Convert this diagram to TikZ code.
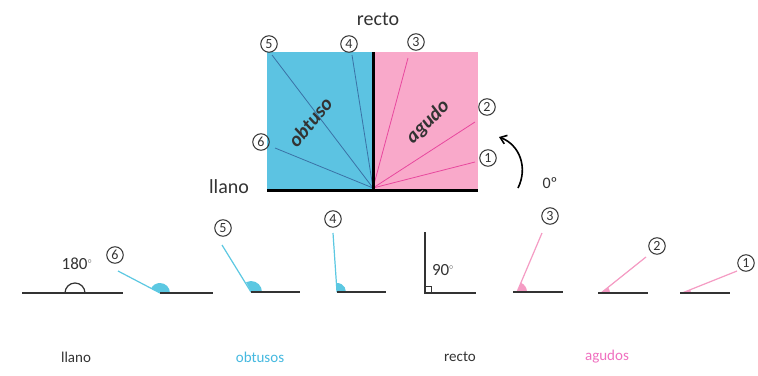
\documentclass[tikz,border=0pt]{standalone}
\usepackage{fontspec}
\setmainfont{Carlito}
\usetikzlibrary{arrows.meta}
\definecolor{boxblue}{HTML}{5CC3E2}
\definecolor{boxpink}{HTML}{F9A9CA}
\definecolor{raydark}{HTML}{3A72A6}
\definecolor{raypink}{HTML}{E8489E}
\definecolor{litecyan}{HTML}{5CC8E2}
\definecolor{litepink}{HTML}{F59CC4}
\definecolor{txtblue}{HTML}{45B9E0}
\definecolor{txtpink}{HTML}{F070C0}
\definecolor{ink}{HTML}{333333}
\tikzset{
  num/.style={circle,draw=ink,line width=1pt,inner sep=0pt,minimum size=16.5pt,font=\fontsize{14}{14}\selectfont,text=ink},
  lbl/.style={font=\fontsize{#1}{#1}\selectfont,text=ink,inner sep=0pt},
  base/.style={draw=ink,line width=1.3pt},
  thick3/.style={draw=black,line width=3pt},
  bray/.style={draw=raydark,line width=0.8pt},
  pray/.style={draw=raypink,line width=0.8pt},
  cray/.style={draw=litecyan,line width=1.2pt},
  kray/.style={draw=litepink,line width=1.2pt},
}
\begin{document}
\begin{tikzpicture}[x=1pt,y=-1pt]
\useasboundingbox (0,0) rectangle (758,375);
\fill[white] (0,0) rectangle (758,375);
% top box
\fill[boxblue] (267,52) rectangle (373,190);
\fill[boxpink] (373,52) rectangle (478,190);
\coordinate (V) at (373,188);
\coordinate (e5) at (272,55);
\coordinate (e4) at (352,55);
\coordinate (e6) at (275,148);
\coordinate (e3) at (408,58);
\coordinate (e2) at (475,122);
\coordinate (e1) at (475,162);
\draw[bray] (V) -- (e5);
\draw[bray] (V) -- (e4);
\draw[bray] (V) -- (e6);
\draw[pray] (V) -- (e3);
\draw[pray] (V) -- (e2);
\draw[pray] (V) -- (e1);
\coordinate (vt) at (373,52);
\coordinate (bl) at (267,190);
\coordinate (br) at (478,190);
\coordinate (vb) at (373,190);
\draw[thick3] (vt) -- (vb);
\draw[thick3] (bl) -- (br);
\node[num] (t5) at (269,44) {5};
\node[num] (t4) at (349,44) {4};
\node[num] (t3) at (416,42) {3};
\node[num] (t2) at (487,107) {2};
\node[num] (t1) at (488,158) {1};
\node[num] (t6) at (261,142) {6};
\node[lbl=20] (trecto) at (378,19) {recto};
\node[lbl=20] (tllano) at (229,187) {llano};
\node[lbl=16] (t0) at (550,183) {0º};
\node[font=\fontsize{20}{20}\selectfont\bfseries\itshape,text=ink,rotate=50,inner sep=0pt] (obt) at (310,122) {obtuso};
\node[font=\fontsize{20}{20}\selectfont\bfseries\itshape,text=ink,rotate=45,inner sep=0pt] (agu) at (428,122) {agudo};
\coordinate (as) at (518,188);
\coordinate (ae) at (499,137);
\draw[black,line width=1.6pt,-{Straight Barb[length=6pt,width=9pt]}] (as) .. controls (528,168) and (520,145) .. (ae);
% bottom row
% llano
\coordinate (l1) at (22,293);
\coordinate (l2) at (123,293);
\draw[base] (l1) -- (l2);
\draw[ink,line width=1.2pt] (65,293) arc[start angle=180,end angle=360,radius=10];
\node[lbl=17] (d180) at (77,264) {180\textsuperscript{\fontsize{8}{8}\selectfont$\circ$}};
% 6
\coordinate (v6) at (160,293);
\fill[litecyan] (v6) -- ++(10,0) arc[start angle=0,end angle=-153,radius=10] -- cycle;
\draw[cray] (v6) -- (118,271);
\draw[base] (v6) -- (213,293);
\node[num] (b6) at (115,255) {6};
% 5
\coordinate (v5) at (251,292);
\fill[litecyan] (v5) -- ++(11,0) arc[start angle=0,end angle=-116,radius=11] -- cycle;
\draw[cray] (v5) -- (222,245);
\draw[base] (v5) -- (300,292);
\node[num] (b5) at (223,228) {5};
% 4
\coordinate (v4) at (337,292);
\fill[litecyan] (v4) -- ++(9,0) arc[start angle=0,end angle=-94,radius=9] -- cycle;
\draw[cray] (v4) -- (333,233);
\draw[base] (v4) -- (386,292);
\node[num] (b4) at (333,219) {4};
% recto
\coordinate (r0) at (425,293);
\draw[base] (425,232) -- (r0) -- (476,293);
\draw[ink,line width=0.9pt] (425,286) -- (431,286) -- (431,293);
\node[lbl=17] (d90) at (443,270) {90\textsuperscript{\fontsize{8}{8}\selectfont$\circ$}};
% 3
\coordinate (v3) at (517,292);
\fill[litepink] (v3) -- ++(10,0) arc[start angle=0,end angle=-66,radius=10] -- cycle;
\draw[kray] (v3) -- (542,233);
\draw[base] (513,292) -- (563,292);
\node[num] (b3) at (550,216) {3};
% 2
\coordinate (v2) at (601,293);
\fill[litepink] (v2) -- ++(9,0) arc[start angle=0,end angle=-37,radius=9] -- cycle;
\draw[kray] (v2) -- (646,257);
\draw[base] (598,293) -- (648,293);
\node[num] (b2) at (657,246) {2};
% 1
\coordinate (v1) at (682,293);
\fill[litepink] (v1) -- ++(9,0) arc[start angle=0,end angle=-21,radius=9] -- cycle;
\draw[kray] (v1) -- (737,271);
\draw[base] (680,293) -- (730,293);
\node[num] (b1) at (746,263) {1};
% bottom labels
\node[lbl=15] (bllano) at (76,357) {llano};
\node[lbl=15,text=txtblue] (bobt) at (260,357) {obtusos};
\node[lbl=15] (brecto) at (460,357) {recto};
\node[lbl=15,text=txtpink] (bagu) at (607,357) {agudos};
\end{tikzpicture}
\end{document}
